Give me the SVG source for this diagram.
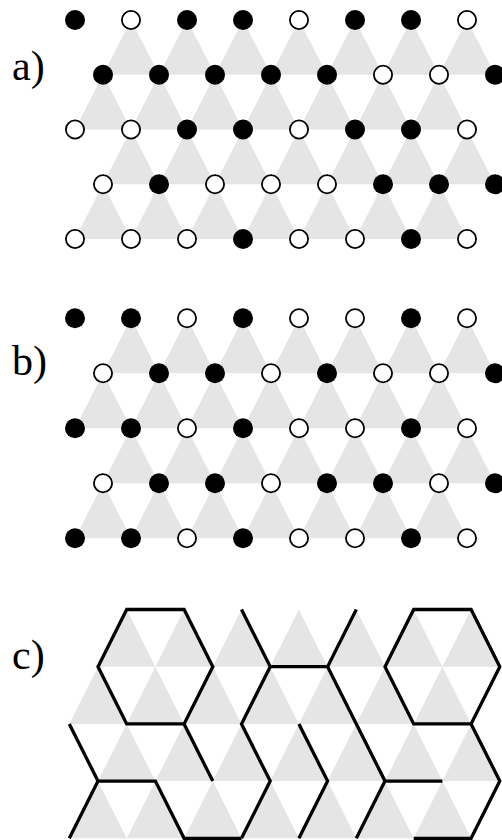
<svg xmlns="http://www.w3.org/2000/svg" xmlns:xlink="http://www.w3.org/1999/xlink" width="502" height="840" viewBox="0 0 502 840">
<style>
.tri{fill:#e5e5e5;stroke:none}
.b{fill:#000}
.w{fill:#fff;stroke:#000;stroke-width:1.8}
.lab{font-family:"Liberation Serif","Times New Roman",serif;font-size:42px;fill:#000}
.ln{fill:none;stroke:#000;stroke-width:3.3;stroke-linejoin:miter;stroke-linecap:butt}
</style>
<defs>
<path id="ta" class="tri" d="M0,0 L-28,54.75 L28,54.75 Z"/>
<path id="tb" class="tri" d="M0,0 L-28,55 L28,55 Z"/>
<path id="tc" class="tri" d="M0,0 L-28.7,57.2 L28.7,57.2 Z"/>
</defs>
<rect width="502" height="840" fill="#fff"/>

<g id="panel-a">
<text class="lab" x="12" y="80">a)</text>
<g id="a-triangles">
<use xlink:href="#ta" x="131" y="20"/><use xlink:href="#ta" x="187" y="20"/><use xlink:href="#ta" x="243" y="20"/><use xlink:href="#ta" x="299" y="20"/><use xlink:href="#ta" x="355" y="20"/><use xlink:href="#ta" x="411" y="20"/><use xlink:href="#ta" x="467" y="20"/>
<use xlink:href="#ta" x="103" y="74.75"/><use xlink:href="#ta" x="159" y="74.75"/><use xlink:href="#ta" x="215" y="74.75"/><use xlink:href="#ta" x="271" y="74.75"/><use xlink:href="#ta" x="327" y="74.75"/><use xlink:href="#ta" x="383" y="74.75"/><use xlink:href="#ta" x="439" y="74.75"/>
<use xlink:href="#ta" x="131" y="129.5"/><use xlink:href="#ta" x="187" y="129.5"/><use xlink:href="#ta" x="243" y="129.5"/><use xlink:href="#ta" x="299" y="129.5"/><use xlink:href="#ta" x="355" y="129.5"/><use xlink:href="#ta" x="411" y="129.5"/><use xlink:href="#ta" x="467" y="129.5"/>
<use xlink:href="#ta" x="103" y="184.25"/><use xlink:href="#ta" x="159" y="184.25"/><use xlink:href="#ta" x="215" y="184.25"/><use xlink:href="#ta" x="271" y="184.25"/><use xlink:href="#ta" x="327" y="184.25"/><use xlink:href="#ta" x="383" y="184.25"/><use xlink:href="#ta" x="439" y="184.25"/>
</g>
<g id="a-dots">
<circle class="b" cx="75" cy="20" r="10"/><circle class="w" cx="131" cy="20" r="9.1"/><circle class="b" cx="187" cy="20" r="10"/><circle class="b" cx="243" cy="20" r="10"/><circle class="w" cx="299" cy="20" r="9.1"/><circle class="b" cx="355" cy="20" r="10"/><circle class="b" cx="411" cy="20" r="10"/><circle class="w" cx="467" cy="20" r="9.1"/>
<circle class="b" cx="103" cy="74.75" r="10"/><circle class="b" cx="159" cy="74.75" r="10"/><circle class="b" cx="215" cy="74.75" r="10"/><circle class="b" cx="271" cy="74.75" r="10"/><circle class="b" cx="327" cy="74.75" r="10"/><circle class="w" cx="383" cy="74.75" r="9.1"/><circle class="w" cx="439" cy="74.75" r="9.1"/><circle class="b" cx="495" cy="74.75" r="10"/>
<circle class="w" cx="75" cy="129.5" r="9.1"/><circle class="w" cx="131" cy="129.5" r="9.1"/><circle class="b" cx="187" cy="129.5" r="10"/><circle class="b" cx="243" cy="129.5" r="10"/><circle class="w" cx="299" cy="129.5" r="9.1"/><circle class="b" cx="355" cy="129.5" r="10"/><circle class="b" cx="411" cy="129.5" r="10"/><circle class="w" cx="467" cy="129.5" r="9.1"/>
<circle class="w" cx="103" cy="184.25" r="9.1"/><circle class="b" cx="159" cy="184.25" r="10"/><circle class="w" cx="215" cy="184.25" r="9.1"/><circle class="w" cx="271" cy="184.25" r="9.1"/><circle class="w" cx="327" cy="184.25" r="9.1"/><circle class="b" cx="383" cy="184.25" r="10"/><circle class="b" cx="439" cy="184.25" r="10"/><circle class="b" cx="495" cy="184.25" r="10"/>
<circle class="w" cx="75" cy="239" r="9.1"/><circle class="w" cx="131" cy="239" r="9.1"/><circle class="w" cx="187" cy="239" r="9.1"/><circle class="b" cx="243" cy="239" r="10"/><circle class="w" cx="299" cy="239" r="9.1"/><circle class="w" cx="355" cy="239" r="9.1"/><circle class="b" cx="411" cy="239" r="10"/><circle class="w" cx="467" cy="239" r="9.1"/>
</g>
</g>

<g id="panel-b">
<text class="lab" x="12" y="375">b)</text>
<g id="b-triangles">
<use xlink:href="#tb" x="131" y="318.3"/><use xlink:href="#tb" x="187" y="318.3"/><use xlink:href="#tb" x="243" y="318.3"/><use xlink:href="#tb" x="299" y="318.3"/><use xlink:href="#tb" x="355" y="318.3"/><use xlink:href="#tb" x="411" y="318.3"/><use xlink:href="#tb" x="467" y="318.3"/>
<use xlink:href="#tb" x="103" y="373.3"/><use xlink:href="#tb" x="159" y="373.3"/><use xlink:href="#tb" x="215" y="373.3"/><use xlink:href="#tb" x="271" y="373.3"/><use xlink:href="#tb" x="327" y="373.3"/><use xlink:href="#tb" x="383" y="373.3"/><use xlink:href="#tb" x="439" y="373.3"/>
<use xlink:href="#tb" x="131" y="428.3"/><use xlink:href="#tb" x="187" y="428.3"/><use xlink:href="#tb" x="243" y="428.3"/><use xlink:href="#tb" x="299" y="428.3"/><use xlink:href="#tb" x="355" y="428.3"/><use xlink:href="#tb" x="411" y="428.3"/><use xlink:href="#tb" x="467" y="428.3"/>
<use xlink:href="#tb" x="103" y="483.3"/><use xlink:href="#tb" x="159" y="483.3"/><use xlink:href="#tb" x="215" y="483.3"/><use xlink:href="#tb" x="271" y="483.3"/><use xlink:href="#tb" x="327" y="483.3"/><use xlink:href="#tb" x="383" y="483.3"/><use xlink:href="#tb" x="439" y="483.3"/>
</g>
<g id="b-dots">
<circle class="b" cx="75" cy="318.3" r="10"/><circle class="b" cx="131" cy="318.3" r="10"/><circle class="w" cx="187" cy="318.3" r="9.1"/><circle class="b" cx="243" cy="318.3" r="10"/><circle class="w" cx="299" cy="318.3" r="9.1"/><circle class="w" cx="355" cy="318.3" r="9.1"/><circle class="b" cx="411" cy="318.3" r="10"/><circle class="w" cx="467" cy="318.3" r="9.1"/>
<circle class="w" cx="103" cy="373.3" r="9.1"/><circle class="b" cx="159" cy="373.3" r="10"/><circle class="b" cx="215" cy="373.3" r="10"/><circle class="w" cx="271" cy="373.3" r="9.1"/><circle class="b" cx="327" cy="373.3" r="10"/><circle class="w" cx="383" cy="373.3" r="9.1"/><circle class="w" cx="439" cy="373.3" r="9.1"/><circle class="b" cx="495" cy="373.3" r="10"/>
<circle class="b" cx="75" cy="428.3" r="10"/><circle class="b" cx="131" cy="428.3" r="10"/><circle class="w" cx="187" cy="428.3" r="9.1"/><circle class="b" cx="243" cy="428.3" r="10"/><circle class="w" cx="299" cy="428.3" r="9.1"/><circle class="w" cx="355" cy="428.3" r="9.1"/><circle class="b" cx="411" cy="428.3" r="10"/><circle class="w" cx="467" cy="428.3" r="9.1"/>
<circle class="w" cx="103" cy="483.3" r="9.1"/><circle class="b" cx="159" cy="483.3" r="10"/><circle class="b" cx="215" cy="483.3" r="10"/><circle class="w" cx="271" cy="483.3" r="9.1"/><circle class="b" cx="327" cy="483.3" r="10"/><circle class="b" cx="383" cy="483.3" r="10"/><circle class="w" cx="439" cy="483.3" r="9.1"/><circle class="b" cx="495" cy="483.3" r="10"/>
<circle class="b" cx="75" cy="538.3" r="10"/><circle class="b" cx="131" cy="538.3" r="10"/><circle class="w" cx="187" cy="538.3" r="9.1"/><circle class="b" cx="243" cy="538.3" r="10"/><circle class="w" cx="299" cy="538.3" r="9.1"/><circle class="w" cx="355" cy="538.3" r="9.1"/><circle class="b" cx="411" cy="538.3" r="10"/><circle class="w" cx="467" cy="538.3" r="9.1"/>
</g>
</g>

<g id="panel-c">
<text class="lab" x="12" y="669">c)</text>
<g id="c-triangles">
<use xlink:href="#tc" x="126.7" y="609.5"/><use xlink:href="#tc" x="184.1" y="609.5"/><use xlink:href="#tc" x="241.5" y="609.5"/><use xlink:href="#tc" x="298.9" y="609.5"/><use xlink:href="#tc" x="356.3" y="609.5"/><use xlink:href="#tc" x="413.7" y="609.5"/><use xlink:href="#tc" x="471.1" y="609.5"/>
<use xlink:href="#tc" x="98" y="666.7"/><use xlink:href="#tc" x="155.4" y="666.7"/><use xlink:href="#tc" x="212.8" y="666.7"/><use xlink:href="#tc" x="270.2" y="666.7"/><use xlink:href="#tc" x="327.6" y="666.7"/><use xlink:href="#tc" x="385" y="666.7"/><use xlink:href="#tc" x="442.4" y="666.7"/>
<use xlink:href="#tc" x="126.7" y="723.9"/><use xlink:href="#tc" x="184.1" y="723.9"/><use xlink:href="#tc" x="241.5" y="723.9"/><use xlink:href="#tc" x="298.9" y="723.9"/><use xlink:href="#tc" x="356.3" y="723.9"/><use xlink:href="#tc" x="413.7" y="723.9"/><use xlink:href="#tc" x="471.1" y="723.9"/>
<use xlink:href="#tc" x="98" y="781.1"/><use xlink:href="#tc" x="155.4" y="781.1"/><use xlink:href="#tc" x="212.8" y="781.1"/><use xlink:href="#tc" x="270.2" y="781.1"/><use xlink:href="#tc" x="327.6" y="781.1"/><use xlink:href="#tc" x="385" y="781.1"/><use xlink:href="#tc" x="442.4" y="781.1"/>
</g>
<g id="c-lines">
<path class="ln" d="M126.7,609.5 L184.1,609.5 L212.8,666.7 L184.1,723.9 L126.7,723.9 L98,666.7 Z"/>
<path class="ln" d="M413.7,609.5 L471.1,609.5 L499.8,666.7 L471.1,723.9 L413.7,723.9 L385,666.7 Z"/>
<path class="ln" d="M69.3,723.9 L98,781.1 L155.4,781.1 L184.1,838.3 L241.5,838.3 M98,781.1 L69.3,838.3"/>
<path class="ln" d="M184.1,723.9 L212.8,781.1"/>
<path class="ln" d="M241.5,609.5 L270.2,666.7 L327.6,666.7 L356.3,609.5 M270.2,666.7 L241.5,723.9 L270.2,781.1 L241.5,838.3"/>
<path class="ln" d="M327.6,666.7 L385,781.1 L442.4,781.1 M385,781.1 L356.3,838.3"/>
<path class="ln" d="M298.9,723.9 L327.6,781.1 L298.9,838.3"/>
<path class="ln" d="M471.1,723.9 L499.8,781.1 L471.1,838.3 L413.7,838.3"/>
</g>
</g>
</svg>
